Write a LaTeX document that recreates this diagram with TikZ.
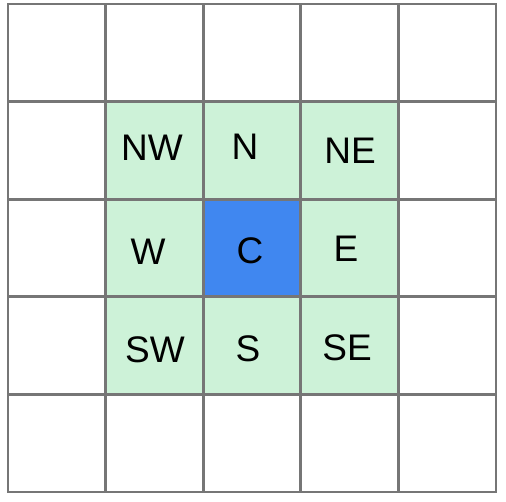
\documentclass[tikz,border=0pt]{standalone}
\usepackage{fontspec}
\setmainfont{Liberation Sans}
\definecolor{gridline}{RGB}{118,118,118}
\definecolor{nbgreen}{RGB}{205,242,216}
\definecolor{cblue}{RGB}{64,135,240}
\begin{document}
\begin{tikzpicture}[x=1pt,y=-1pt,
  cellbox/.style={draw=gridline,line width=2.7pt,minimum width=97.6pt,minimum height=97.6pt,inner sep=0pt,outer sep=0pt,fill=white},
  nbcell/.style={cellbox,fill=nbgreen},
  ccell/.style={cellbox,fill=cblue},
  lbl/.style={inner sep=0pt,font=\fontsize{37}{40}\selectfont,text=black}]
\useasboundingbox (0,0) rectangle (506,502);
% grid cells: columns x0..x4, rows y0..y4
\foreach \r in {0,...,4}{
  \foreach \c in {0,...,4}{
    \node[cellbox] (cell-\r-\c) at ({8+48.8+97.6*\c},{4+48.8+97.6*\r}) {};
  }
}
% neighbourhood
\node[nbcell] (nw) at (cell-1-1) {};
\node[nbcell] (n)  at (cell-1-2) {};
\node[nbcell] (ne) at (cell-1-3) {};
\node[nbcell] (w)  at (cell-2-1) {};
\node[ccell]  (c)  at (cell-2-2) {};
\node[nbcell] (e)  at (cell-2-3) {};
\node[nbcell] (sw) at (cell-3-1) {};
\node[nbcell] (s)  at (cell-3-2) {};
\node[nbcell] (se) at (cell-3-3) {};
% labels
\node[lbl] (tnw) at (152,148) {NW};
\node[lbl] (tn)  at (245,147) {N};
\node[lbl] (tne) at (350,151) {NE};
\node[lbl] (tw)  at (148,252) {W};
\node[lbl] (tc)  at (250,251) {C};
\node[lbl] (te)  at (346,249) {E};
\node[lbl] (tsw) at (155,350) {SW};
\node[lbl] (ts)  at (248,349) {S};
\node[lbl] (tse) at (347,348) {SE};
\end{tikzpicture}
\end{document}
